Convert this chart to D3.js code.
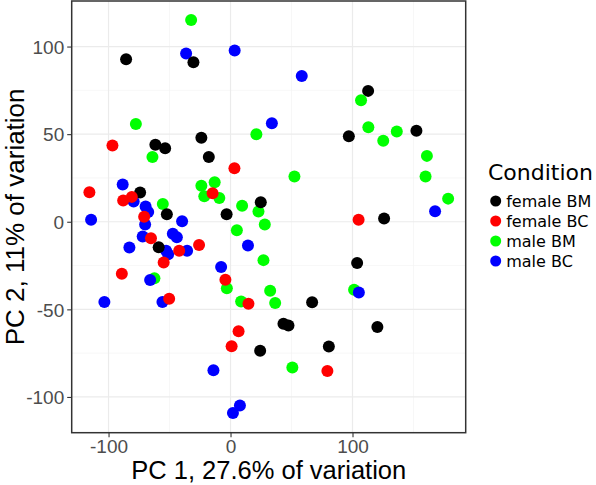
<!DOCTYPE html>
<html>
<head>
<meta charset="utf-8">
<script src="https://cdn.jsdelivr.net/npm/d3@7"></script>
<style>
  html, body { margin: 0; padding: 0; background: #ffffff; }
  svg { display: block; }
</style>
</head>
<body>
<svg id="chart" width="596" height="485"></svg>
<script>
// ---------- data (PC1, PC2) ----------
const conditions = ["female BM", "female BC", "male BM", "male BC"];
const colors = ["#000000", "#FF0000", "#00FF00", "#0000FF"];

const femaleBM_pc1 = [-85.6, -30.4, -61.6, -53.6, -23.9, -17.8, 112.8, 97.0, 152.4, -74.1, -52.2, -3.2, 24.8, 125.9, -58.9, 103.8, 66.9, 43.4, 47.5, 120.4, 24.3, 80.6];
const femaleBM_pc2 = [92.8, 91.0, 44.0, 42.0, 48.0, 36.9, 74.7, 48.8, 52.0, 16.7, 4.3, 4.3, 11.2, 1.8, -14.6, -23.6, -45.9, -58.2, -59.2, -60.1, -73.6, -71.2];

const femaleBC_pc1 = [-96.8, 3.2, -14.7, -115.7, -88.0, -80.9, -70.8, -65.2, -42.1, -25.8, -54.8, -89.1, -4.2, -50.3, 14.7, 105.0, 6.6, 0.9, 79.4];
const femaleBC_pc2 = [43.5, 30.6, 16.3, 16.9, 12.1, 14.2, 2.8, -9.4, -16.6, -13.3, -23.3, -29.7, -33.1, -44.0, -46.8, 1.1, -62.5, -71.1, -85.2];

const maleBM_pc1 = [-32.3, -77.6, -64.0, 21.2, 107.0, 113.0, 125.2, 136.3, 161.0, 159.9, 178.4, 52.4, -23.9, -13.0, -21.5, -9.2, -55.5, 9.5, 22.9, 5.2, 28.1, 27.0, -62.4, -3.0, 32.5, 101.3, 8.7, 36.6, 50.7];
const maleBM_pc2 = [115.2, 55.8, 37.0, 50.0, 69.4, 54.0, 46.3, 51.5, 37.6, 25.8, 13.2, 25.8, 20.5, 22.6, 14.5, 13.6, 10.2, 9.2, 5.8, -4.9, -1.6, -21.9, -32.2, -37.9, -39.4, -38.8, -45.5, -46.4, -83.2];

const maleBC_pc1 = [-36.4, 3.4, 58.4, 33.9, -88.4, -79.4, -69.6, -67.5, -114.3, -39.7, -70.0, -47.3, -44.0, -72.0, 14.3, -82.9, -52.8, -51.1, -35.6, -7.7, -65.9, -103.4, -55.8, 167.7, 105.2, -14.0, 7.7, 2.0];
const maleBC_pc2 = [96.1, 97.7, 83.2, 56.2, 21.2, 11.5, 8.7, 5.6, 1.1, 0.3, -1.5, -6.9, -8.8, -8.4, -13.5, -14.7, -16.6, -18.5, -16.6, -25.8, -33.3, -45.8, -45.8, 6.0, -40.4, -84.7, -104.9, -109.2];

const xTicks = [-100, 0, 100];
const xMinor = [-50, 50, 150];
const yTicks = [-100, -50, 0, 50, 100];
const yMinor = [-75, -25, 25, 75];

const xTitle = "PC 1, 27.6% of variation";
const yTitle = "PC 2, 11% of variation";
const legendTitle = "Condition";

// ---------- build ----------
const series = [
  {cond: 2, xs: maleBM_pc1, ys: maleBM_pc2},
  {cond: 3, xs: maleBC_pc1, ys: maleBC_pc2},
  {cond: 0, xs: femaleBM_pc1, ys: femaleBM_pc2},
  {cond: 1, xs: femaleBC_pc1, ys: femaleBC_pc2}
];
const points = [];
series.forEach(s => s.xs.forEach((v, i) => points.push({x: v, y: s.ys[i], c: s.cond})));

const svg = d3.select("#chart");
const panel = {left: 71.7, right: 465.7, top: 1, bottom: 432.7};

const x = d3.scaleLinear().domain([-130.2, 192.8]).range([panel.left, panel.right]);
const y = d3.scaleLinear().domain([-120.4, 126.0]).range([panel.bottom, panel.top]);

const tickFont = "'Liberation Sans', Arial, sans-serif";
const legendFont = "'DejaVu Sans', Verdana, sans-serif";

// grid
const grid = svg.append("g");
grid.selectAll(".xmin").data(xMinor).join("line")
  .attr("x1", d => x(d)).attr("x2", d => x(d))
  .attr("y1", panel.top).attr("y2", panel.bottom)
  .attr("stroke", "#F2F2F2").attr("stroke-width", 0.6);
grid.selectAll(".ymin").data(yMinor).join("line")
  .attr("y1", d => y(d)).attr("y2", d => y(d))
  .attr("x1", panel.left).attr("x2", panel.right)
  .attr("stroke", "#F2F2F2").attr("stroke-width", 0.6);
grid.selectAll(".xmaj").data(xTicks).join("line")
  .attr("x1", d => x(d)).attr("x2", d => x(d))
  .attr("y1", panel.top).attr("y2", panel.bottom)
  .attr("stroke", "#EBEBEB").attr("stroke-width", 1.2);
grid.selectAll(".ymaj").data(yTicks).join("line")
  .attr("y1", d => y(d)).attr("y2", d => y(d))
  .attr("x1", panel.left).attr("x2", panel.right)
  .attr("stroke", "#EBEBEB").attr("stroke-width", 1.2);

// points
svg.append("g").selectAll("circle").data(points).join("circle")
  .attr("cx", d => x(d.x)).attr("cy", d => y(d.y))
  .attr("r", 6).attr("fill", d => colors[d.c]);

// panel border
svg.append("rect")
  .attr("x", panel.left).attr("y", panel.top)
  .attr("width", panel.right - panel.left).attr("height", panel.bottom - panel.top)
  .attr("fill", "none").attr("stroke", "#333333").attr("stroke-width", 1.5);

// axes
const xAxis = d3.axisBottom(x).tickValues(xTicks).tickSize(4.5).tickPadding(2.5).tickFormat(d3.format("d"));
const gx = svg.append("g").attr("transform", `translate(0,${panel.bottom})`).call(xAxis);
const yAxis = d3.axisLeft(y).tickValues(yTicks).tickSize(4.5).tickPadding(3).tickFormat(d3.format("d"));
const gy = svg.append("g").attr("transform", `translate(${panel.left},0)`).call(yAxis);
[gx, gy].forEach(g => {
  g.select(".domain").remove();
  g.selectAll(".tick line").attr("stroke", "#333333").attr("stroke-width", 1.1);
  g.selectAll(".tick text").attr("fill", "#4D4D4D")
    .style("font-family", tickFont).style("font-size", "19px");
});
gx.selectAll(".tick text").text(d => d < 0 ? "-" + Math.abs(d) : String(d));
gy.selectAll(".tick text").text(d => d < 0 ? "-" + Math.abs(d) : String(d)).attr("dy", "0.35em");

// axis titles
svg.append("text")
  .attr("x", (panel.left + panel.right) / 2).attr("y", 479.3)
  .attr("text-anchor", "middle")
  .style("font-family", tickFont).style("font-size", "25.5px").attr("fill", "#000")
  .text(xTitle);
svg.append("text")
  .attr("transform", `translate(23.5,${(panel.top + panel.bottom) / 2}) rotate(-90)`)
  .attr("text-anchor", "middle")
  .style("font-family", tickFont).style("font-size", "26px").attr("fill", "#000")
  .text(yTitle);

// legend
const lg = svg.append("g");
lg.append("text").attr("x", 488).attr("y", 180)
  .style("font-family", legendFont).style("font-size", "22px").attr("fill", "#000")
  .text(legendTitle);
const items = lg.selectAll(".item").data(conditions).join("g")
  .attr("transform", (d, i) => `translate(495.7,${201 + i * 20})`);
items.append("circle").attr("r", 5.5).attr("fill", (d, i) => colors[i]);
items.append("text").attr("x", 10.5).attr("dy", "0.36em")
  .style("font-family", legendFont).style("font-size", "16px").attr("fill", "#000")
  .text(d => d);
</script>
</body>
</html>
